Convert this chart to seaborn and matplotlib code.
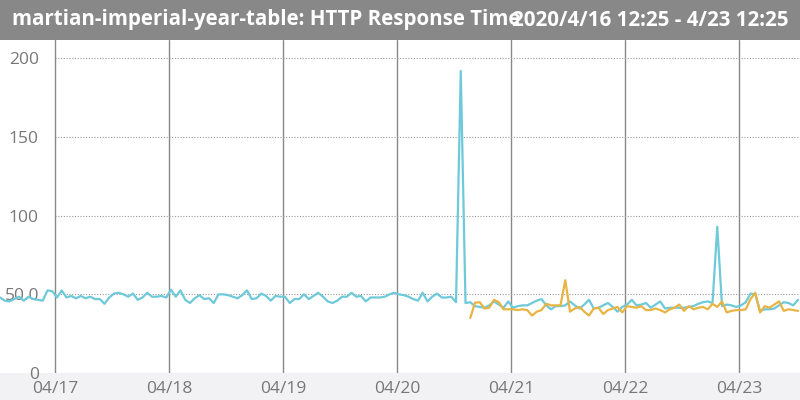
import pandas as pd
import numpy as np
import matplotlib.pyplot as plt
import matplotlib.dates as mdates
from matplotlib.patches import Rectangle
from matplotlib.ticker import FixedLocator, FixedFormatter
import seaborn as sns

sns.set_style('white')
plt.rcParams['font.family'] = ['Open Sans', 'DejaVu Sans']

title_left = "martian-imperial-year-table: HTTP Response Time"
title_right = "2020/4/16 12:25 - 4/23 12:25"

# hourly samples from 2020-04-16 12:25
cyan_values = [
    48, 46, 45.5, 47, 48.5, 46, 48.5, 47, 46.5, 46, 52.5, 52,
    48, 52.5, 48, 49, 47.5, 49, 47.5, 48.5, 47, 47, 44, 48, 50.5, 51, 50, 48.5,
    50.5, 46.5, 48, 51, 48.5, 48.5, 49, 48,
    53, 48.5, 52.5, 46.5, 44.5, 47.5, 49.5, 47, 47.5, 44.5, 50, 50, 49.5, 48.5,
    47.5, 49.5, 52.5, 47, 47.5, 50.5, 49, 46, 49, 48.5,
    48.5, 44.5, 47, 47, 50, 47, 49, 51, 48.5, 45.5, 44.5, 46, 48.5, 48.5, 51,
    48.5, 49, 45.5, 48, 48, 48, 48.5, 50, 51,
    50, 49.5, 48.5, 47, 46, 51, 45.5, 48.5, 50.5, 48, 48, 48.5, 45, 192,
    44.5, 45, 42.5, 42, 41.5, 43, 45.5, 43.5, 41.5, 45.5, 41.5, 42.5, 43, 43,
    44.5, 46, 47, 43, 40.5, 42.5, 42.5, 43, 45.5, 43, 41, 43.5, 46.5, 41, 41.5,
    43, 44.5, 42, 39, 42, 43.5, 46.5, 43, 43.5, 44.5, 41.5, 43.5, 45.5, 41,
    41.5, 41.5, 41.5, 41.5, 42, 42.5, 44, 45, 45.5, 44.5, 93, 42.5, 43.5, 43,
    42, 43, 45, 50.5, 50, 39.5, 40.5, 40.5, 41, 43, 45, 44.5, 43, 46.5,
]

# second series starts at sample 99
orange_start = 99
orange_values = [
    35, 44.7, 45, 41, 41.5, 46.5, 45, 40.5, 40.5, 40.5, 40, 40.5, 40, 36.5, 39,
    40, 44, 43, 43, 43, 59, 39, 41, 42, 39, 36.5, 41, 41.5, 37.5, 40, 41, 42,
    38.5, 42.5, 42, 41.5, 42.5, 40, 40, 41, 40, 38.5, 40.5, 41.5, 43.5, 39.5,
    42.5, 40.5, 41.5, 42, 40.5, 44, 42, 45.5, 38.5, 39.5, 40, 40, 40.5, 47, 51,
    38.5, 42.5, 41.5, 43.5, 45.5, 39.5, 40.5, 40, 39.5,
]

times = pd.date_range("2020-04-16 12:25", periods=len(cyan_values), freq="h")
df_cyan = pd.DataFrame({"time": times, "value": cyan_values})
df_orange = pd.DataFrame({"time": times[orange_start:orange_start + len(orange_values)],
                          "value": orange_values})

fig = plt.figure(figsize=(8, 4), dpi=100, facecolor='#f2f2f4')
ax = fig.add_axes([0, 27 / 400, 1, 333 / 400])
ax.set_facecolor('white')

sns.lineplot(data=df_cyan, x="time", y="value", color='#6ec9d9', lw=1.6, ax=ax)
sns.lineplot(data=df_orange, x="time", y="value", color='#e8b443', lw=1.6, ax=ax)

ax.set_xlim(pd.Timestamp("2020-04-16 12:25"), pd.Timestamp("2020-04-23 12:50"))
ax.set_ylim(0, 211.7)

# y axis: labels drawn inside the plot
yt = [0, 50, 100, 150, 200]
ax.yaxis.set_major_locator(FixedLocator(yt))
ax.yaxis.set_major_formatter(FixedFormatter(["0", "50.0", "100", "150", "200"]))
ax.tick_params(axis='y', length=0, pad=-28, labelsize=12.5, labelcolor='#777777')
for v in yt:
    ax.axhline(v, xmin=55 / 800, color='#999999', lw=0.8, ls=(0, (1, 1.5)), zorder=1)

# x axis: day boundaries
ax.xaxis.set_major_locator(mdates.DayLocator())
ax.xaxis.set_major_formatter(mdates.DateFormatter('%m/%d'))
ax.tick_params(axis='x', length=6, color='#888888', labelsize=12.5,
               labelcolor='#777777', pad=0)
ax.grid(axis='x', color='#888888', lw=1, ls='-')
ax.grid(axis='y', visible=False)
ax.set_xlabel("")
ax.set_ylabel("")
for s in ax.spines.values():
    s.set_visible(False)

# title bar
fig.patches.append(Rectangle((0, 360 / 400), 1, 40 / 400, transform=fig.transFigure,
                             facecolor='#888888', edgecolor='none', zorder=3))
fig.text(12 / 800, 380 / 400, title_left, color='white', fontweight='bold',
         fontsize=14.8, va='center', ha='left', zorder=4)
fig.text(788 / 800, 380 / 400, title_right, color='white', fontweight='bold',
         fontsize=14.8, va='center', ha='right', zorder=4)

fig.savefig("out.png", dpi=100, facecolor=fig.get_facecolor())
